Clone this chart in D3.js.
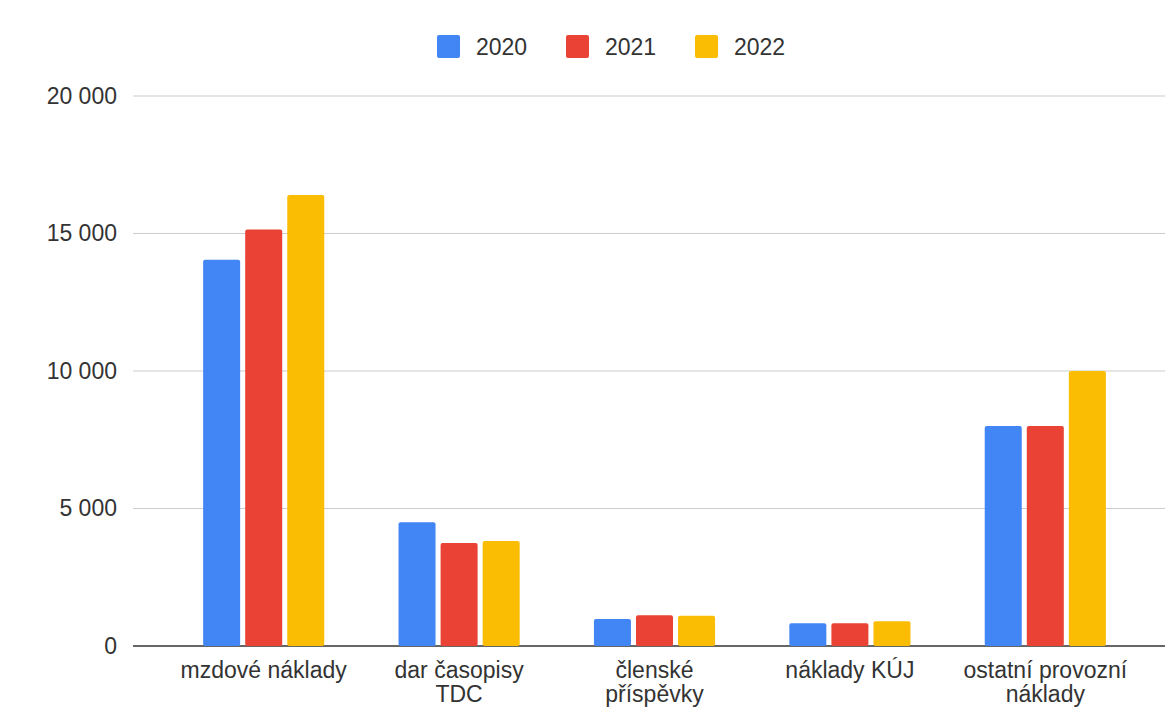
<!DOCTYPE html>
<html>
<head>
<style>
  body {
    margin: 0;
    background-color: #ffffff;
  }
  text {
    font-family: "Liberation Sans", Arial, sans-serif;
    fill: #333333;
  }
</style>
<script src="https://d3js.org/d3.v7.min.js"></script>
</head>
<body>
<script>
// costs by category, three years
const categories = [
  ['mzdové náklady'],
  ['dar časopisy', 'TDC'],
  ['členské', 'příspěvky'],
  ['náklady KÚJ'],
  ['ostatní provozní', 'náklady']
];
const years = ['2020', '2021', '2022'];
const values2020 = [14050, 4500, 980, 830, 8000];
const values2021 = [15150, 3750, 1120, 830, 8000];
const values2022 = [16400, 3820, 1100, 900, 10000];
const yTicks = [0, 5000, 10000, 15000, 20000];
const colors = ['#4285F4', '#EA4335', '#FBBC04'];

const series = [values2020, values2021, values2022];

const width = 1165;
const height = 707;

const svg = d3.select('body')
  .append('svg')
  .attr('width', width)
  .attr('height', height);

const y = d3.scaleLinear()
  .domain([0, 20000])
  .range([646, 96]);

const x0 = d3.scaleBand()
  .domain(d3.range(categories.length))
  .range([166, 1143])
  .paddingInner(0.38)
  .paddingOuter(0.19);

const x1 = d3.scaleBand()
  .domain(d3.range(years.length))
  .range([0, x0.bandwidth()])
  .paddingInner(0.12);

// gridlines
svg.append('g')
  .selectAll('line')
  .data(yTicks)
  .join('line')
  .attr('x1', 133)
  .attr('x2', width)
  .attr('y1', d => y(d))
  .attr('y2', d => y(d))
  .attr('stroke', d => d === 0 ? '#333333' : '#cccccc')
  .attr('stroke-width', d => d === 0 ? 1.5 : 1.2);

// y tick labels
svg.append('g')
  .selectAll('text')
  .data(yTicks)
  .join('text')
  .attr('x', 117)
  .attr('y', d => y(d))
  .attr('dy', '0.34em')
  .attr('text-anchor', 'end')
  .style('font-size', '23px')
  .text(d => d3.format(',')(d).replace(/,/g, ' '));

// bars
const groups = svg.append('g')
  .selectAll('g')
  .data(categories)
  .join('g')
  .attr('transform', (d, i) => `translate(${x0(i)},0)`);

groups.selectAll('rect')
  .data((d, i) => series.map((s, k) => ({ k: k, v: s[i] })))
  .join('rect')
  .attr('x', d => x1(d.k))
  .attr('width', x1.bandwidth())
  .attr('y', d => y(d.v))
  .attr('height', d => y(0) - y(d.v))
  .attr('rx', 2)
  .attr('fill', d => colors[d.k]);

// category labels
groups.append('text')
  .attr('x', x0.bandwidth() / 2)
  .attr('text-anchor', 'middle')
  .style('font-size', '23px')
  .selectAll('tspan')
  .data(d => d)
  .join('tspan')
  .attr('x', x0.bandwidth() / 2)
  .attr('y', (d, i) => 678 + i * 24)
  .text(d => d);

// legend
const legend = svg.append('g')
  .selectAll('g')
  .data(years)
  .join('g')
  .attr('transform', (d, i) => `translate(${437 + i * 129},35)`);

legend.append('rect')
  .attr('width', 23)
  .attr('height', 23)
  .attr('rx', 2)
  .attr('fill', (d, i) => colors[i]);

legend.append('text')
  .attr('x', 39)
  .attr('y', 12)
  .attr('dy', '0.36em')
  .style('font-size', '23px')
  .text(d => d);
</script>
</body>
</html>
